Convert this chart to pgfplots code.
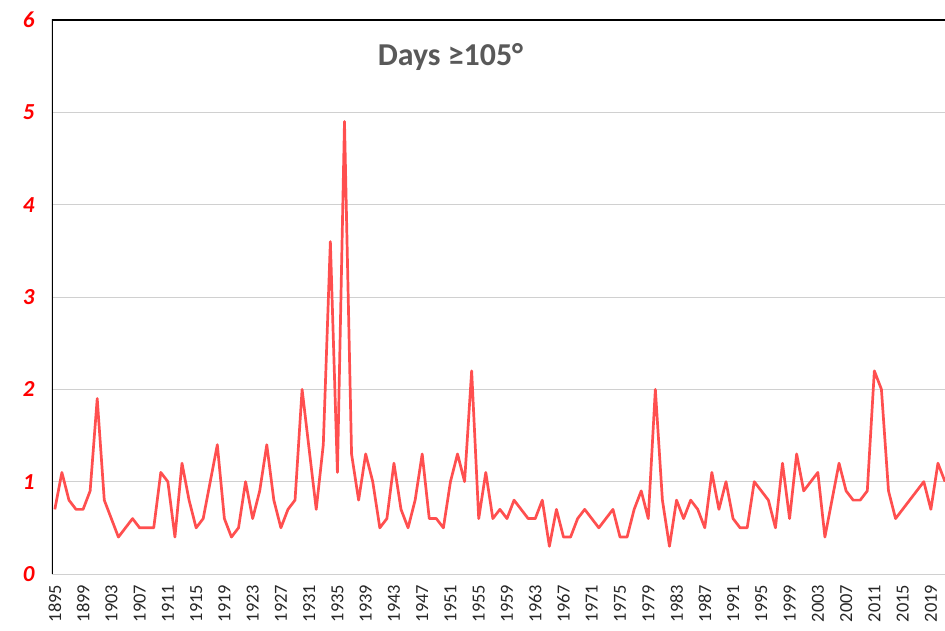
\documentclass[border=0pt]{standalone}
\usepackage{pgfplots}
\pgfplotsset{compat=1.18}
\usepackage{fontspec}
\setmainfont{Carlito}
\definecolor{linered}{HTML}{FF4F4F}
\definecolor{titlegray}{HTML}{595959}
\definecolor{gridgray}{HTML}{D0D0D0}
\definecolor{ticktxt}{HTML}{262626}
\begin{document}
\begin{tikzpicture}
\useasboundingbox (0,0) rectangle (945bp,631bp);
\begin{axis}[
  at={(52bp,57bp)}, anchor=south west,
  scale only axis, width=893bp, height=554bp,
  xmin=1894.6, xmax=2021, ymin=0, ymax=6,
  axis line style={draw=none},
  xtick={1895,1899,...,2019},
  ytick={0,1,...,6},
  major tick length=0pt,
  ymajorgrids, grid style={gridgray, line width=0.9bp},
  /pgf/number format/.cd, 1000 sep={}, assume math mode=true, /pgfplots/.cd,
  xticklabel style={rotate=90, anchor=east, inner sep=0.5bp, font=\fontsize{18.5}{18.5}\selectfont, text=ticktxt, xshift=-10bp},
  yticklabel style={font=\fontsize{23}{23}\selectfont\bfseries\itshape, text=red, xshift=-14bp},
]
\draw[black!75, line width=0.9bp] (rel axis cs:0,0) -- (rel axis cs:1,0);
\addplot[linered, line width=2.7bp, line join=round, mark=none] coordinates {
(1895,0.7) (1896,1.1) (1897,0.8) (1898,0.7) (1899,0.7) (1900,0.9) (1901,1.9) (1902,0.8) (1903,0.6) (1904,0.4)
(1905,0.5) (1906,0.6) (1907,0.5) (1908,0.5) (1909,0.5) (1910,1.1) (1911,1.0) (1912,0.4) (1913,1.2) (1914,0.8)
(1915,0.5) (1916,0.6) (1917,1.0) (1918,1.4) (1919,0.6) (1920,0.4) (1921,0.5) (1922,1.0) (1923,0.6) (1924,0.9)
(1925,1.4) (1926,0.8) (1927,0.5) (1928,0.7) (1929,0.8) (1930,2.0) (1931,1.35) (1932,0.7) (1933,1.4) (1934,3.6)
(1935,1.1) (1936,4.9) (1937,1.3) (1938,0.8) (1939,1.3) (1940,1.0) (1941,0.5) (1942,0.6) (1943,1.2) (1944,0.7)
(1945,0.5) (1946,0.8) (1947,1.3) (1948,0.6) (1949,0.6) (1950,0.5) (1951,1.0) (1952,1.3) (1953,1.0) (1954,2.2)
(1955,0.6) (1956,1.1) (1957,0.6) (1958,0.7) (1959,0.6) (1960,0.8) (1961,0.7) (1962,0.6) (1963,0.6) (1964,0.8)
(1965,0.3) (1966,0.7) (1967,0.4) (1968,0.4) (1969,0.6) (1970,0.7) (1971,0.6) (1972,0.5) (1973,0.6) (1974,0.7)
(1975,0.4) (1976,0.4) (1977,0.7) (1978,0.9) (1979,0.6) (1980,2.0) (1981,0.8) (1982,0.3) (1983,0.8) (1984,0.6)
(1985,0.8) (1986,0.7) (1987,0.5) (1988,1.1) (1989,0.7) (1990,1.0) (1991,0.6) (1992,0.5) (1993,0.5) (1994,1.0)
(1995,0.9) (1996,0.8) (1997,0.5) (1998,1.2) (1999,0.6) (2000,1.3) (2001,0.9) (2002,1.0) (2003,1.1) (2004,0.4)
(2005,0.8) (2006,1.2) (2007,0.9) (2008,0.8) (2009,0.8) (2010,0.9) (2011,2.2) (2012,2.0) (2013,0.9) (2014,0.6)
(2018,1.0) (2019,0.7) (2020,1.2) (2021,1.0)
};
\draw[black, line width=1.6bp] (rel axis cs:0,0) -- (rel axis cs:0,1) -- (rel axis cs:1,1);
\node[font=\fontsize{32}{32}\selectfont\bfseries, text=titlegray] at (axis cs:1951,5.6) {Days ≥105°};
\end{axis}
\end{tikzpicture}
\end{document}
